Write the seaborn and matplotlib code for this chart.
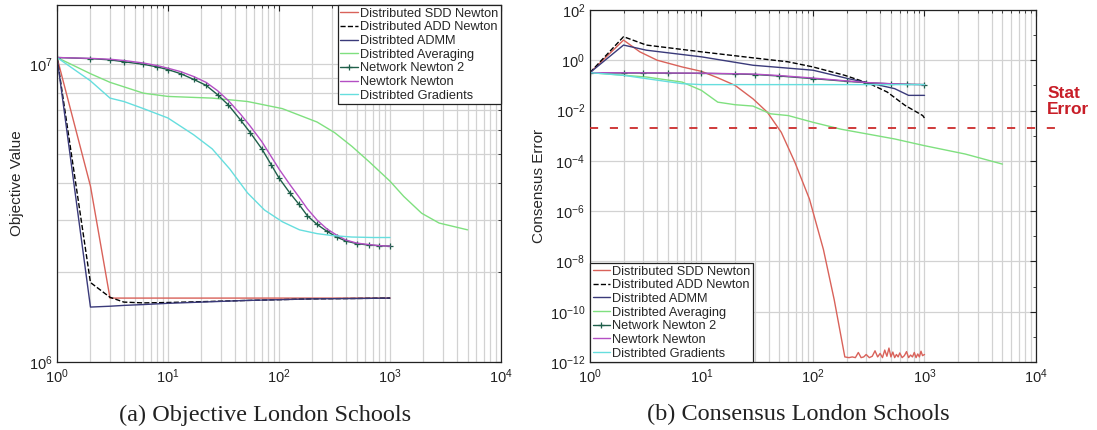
import matplotlib
matplotlib.use("Agg")
import matplotlib.pyplot as plt
from matplotlib.ticker import LogLocator, NullFormatter
import seaborn as sns

# ---------------- Objective value (London Schools) ----------------
it_direct = [1, 2, 3, 4, 6, 10, 20, 50, 100, 200, 500, 1000]
obj_sdd = [1.054e7, 3.9e6, 1.64e6, 1.64e6, 1.64e6, 1.64e6, 1.64e6, 1.64e6, 1.64e6, 1.64e6, 1.64e6, 1.64e6]
obj_add = [1.054e7, 1.85e6, 1.65e6, 1.59e6, 1.58e6, 1.585e6, 1.595e6, 1.61e6, 1.62e6, 1.63e6, 1.635e6, 1.64e6]
obj_admm = [1.054e7, 1.53e6, 1.54e6, 1.55e6, 1.56e6, 1.575e6, 1.59e6, 1.61e6, 1.62e6, 1.63e6, 1.635e6, 1.64e6]

it_nn = [1, 2, 3, 4, 6, 8, 10, 13, 17, 22, 28, 35, 45, 55, 70, 85, 100, 125, 150,
         180, 220, 270, 330, 400, 500, 650, 800, 1000]
obj_nn2 = [1.054e7, 1.045e7, 1.035e7, 1.02e7, 1.0e7, 9.8e6, 9.6e6, 9.3e6, 8.9e6, 8.5e6,
           7.9e6, 7.3e6, 6.5e6, 5.9e6, 5.2e6, 4.6e6, 4.15e6, 3.7e6, 3.4e6, 3.1e6,
           2.9e6, 2.75e6, 2.63e6, 2.55e6, 2.5e6, 2.47e6, 2.46e6, 2.45e6]
obj_nn = [1.054e7, 1.047e7, 1.04e7, 1.03e7, 1.01e7, 9.9e6, 9.7e6, 9.45e6, 9.1e6, 8.7e6,
          8.15e6, 7.55e6, 6.8e6, 6.2e6, 5.5e6, 4.9e6, 4.45e6, 3.95e6, 3.6e6, 3.27e6,
          3.0e6, 2.8e6, 2.67e6, 2.57e6, 2.51e6, 2.48e6, 2.46e6, 2.45e6]

it_grad = [1, 2, 3, 4, 6, 10, 17, 25, 36, 52, 74, 107, 153, 220, 300, 450, 700, 1000]
obj_grad = [1.054e7, 8.8e6, 7.7e6, 7.5e6, 7.1e6, 6.6e6, 5.8e6, 5.2e6, 4.45e6, 3.7e6,
            3.24e6, 2.96e6, 2.78e6, 2.7e6, 2.66e6, 2.63e6, 2.62e6, 2.62e6]

it_avg = [1, 2, 3, 6, 10, 25, 52, 107, 220, 316, 454, 652, 1000, 1330, 1930, 2770, 5000]
obj_avg = [1.054e7, 9.3e6, 8.7e6, 8.0e6, 7.8e6, 7.7e6, 7.5e6, 7.1e6, 6.4e6, 5.9e6,
           5.3e6, 4.7e6, 4.05e6, 3.6e6, 3.16e6, 2.93e6, 2.78e6]

# ---------------- Consensus error (London Schools) ----------------
it_sdd_c = [1, 2, 2.8, 4, 6.7, 10, 14, 20, 29, 39, 52, 69, 93, 124, 155, 193,
            210, 225, 240, 255, 270, 285, 300, 320, 340, 360, 380, 400, 420, 440,
            460, 480, 500, 520, 540, 560, 580, 600, 630, 660, 690, 720, 750, 780,
            810, 840, 870, 900, 930, 960, 1000]
cons_sdd = [0.32, 6.3, 2.15, 1.0, 0.54, 0.36, 0.2, 0.1, 0.029, 8.5e-3, 1.35e-3, 8.5e-5,
            3e-6, 3e-8, 3e-10, 1.6e-12,
            1.5e-12, 1.6e-12, 1.5e-12, 2.4e-12, 1.5e-12, 1.6e-12, 2.0e-12, 1.5e-12,
            1.7e-12, 2.8e-12, 1.6e-12, 2.2e-12, 1.5e-12, 3.0e-12, 1.7e-12, 3.6e-12,
            1.6e-12, 2.5e-12, 1.5e-12, 2.0e-12, 1.6e-12, 2.3e-12, 1.5e-12, 1.8e-12,
            2.6e-12, 1.5e-12, 1.9e-12, 1.6e-12, 2.4e-12, 1.5e-12, 2.1e-12, 1.6e-12,
            2.7e-12, 1.8e-12, 2.0e-12]

it_add_c = [1, 2, 3.2, 10, 29, 60, 100, 193, 322, 464, 669, 964, 1000]
cons_add = [0.32, 8.6, 4.0, 2.15, 1.24, 0.86, 0.54, 0.25, 0.117, 0.054, 0.016, 0.0063, 0.005]

it_admm_c = [1, 2, 3.2, 10, 29, 100, 207, 400, 540, 720, 1000]
cons_admm = [0.32, 4.0, 2.5, 1.36, 0.63, 0.4, 0.185, 0.1, 0.074, 0.04, 0.04]

it_nn_c = [1, 2, 3, 5, 10, 20, 30, 50, 100, 200, 300, 500, 700, 1000]
cons_nn2 = [0.32, 0.31, 0.31, 0.305, 0.30, 0.285, 0.27, 0.235, 0.185, 0.145, 0.128, 0.115, 0.11, 0.107]
cons_nn = [0.32, 0.315, 0.315, 0.31, 0.305, 0.29, 0.28, 0.245, 0.195, 0.15, 0.13, 0.116, 0.11, 0.107]

it_grad_c = [1, 2, 3.2, 6.7, 10, 30, 100, 1000]
cons_grad = [0.32, 0.25, 0.185, 0.117, 0.107, 0.107, 0.107, 0.107]

it_avg_c = [1, 3.2, 6.7, 10, 14, 20, 29, 41.5, 60, 100, 179, 540, 1000, 2320, 5000]
cons_avg = [0.32, 0.215, 0.135, 0.063, 0.0215, 0.017, 0.015, 0.0074, 0.0063, 0.0034,
            0.0018, 7.4e-4, 4e-4, 1.86e-4, 7.4e-5]

stat_error = 2.0e-3

labels = ["Distributed SDD Newton", "Distributed ADD Newton", "Distribted ADMM",
          "Distribted Averaging", "Network Newton 2", "Newtork Newton",
          "Distribted Gradients"]
colors = ["#d9625a", "#000000", "#3a3a7a", "#7fe07f", "#1f5f4a", "#b44fc4", "#66dede"]
styles = ["-", "--", "-", "-", "-", "-", "-"]
markers = [None, None, None, None, "+", None, None]

sns.set_theme(style="whitegrid")
plt.rcParams["font.family"] = ["Liberation Sans", "DejaVu Sans"]
plt.rcParams["mathtext.fontset"] = "custom"
plt.rcParams["mathtext.rm"] = "Liberation Sans"
plt.rcParams["mathtext.it"] = "Liberation Sans"

fig = plt.figure(figsize=(10.97, 4.30), dpi=100)
ax1 = fig.add_axes([0.052, 0.158, 0.4047, 0.830])
ax2 = fig.add_axes([0.5378, 0.158, 0.4066, 0.819])

def draw(ax, series):
    for (xs, ys), lab, col, ls, mk in zip(series, labels, colors, styles, markers):
        sns.lineplot(x=xs, y=ys, ax=ax, color=col, linestyle=ls, linewidth=1.0,
                     marker=mk, markersize=4, markeredgewidth=0.9,
                     markeredgecolor=col, markerfacecolor=col, label=lab,
                     sort=False, estimator=None)

draw(ax1, [(it_direct, obj_sdd), (it_direct, obj_add), (it_direct, obj_admm),
           (it_avg, obj_avg), (it_nn, obj_nn2), (it_nn, obj_nn), (it_grad, obj_grad)])
draw(ax2, [(it_sdd_c, cons_sdd), (it_add_c, cons_add), (it_admm_c, cons_admm),
           (it_avg_c, cons_avg), (it_nn_c, cons_nn2), (it_nn_c, cons_nn),
           (it_grad_c, cons_grad)])

for ax in (ax1, ax2):
    ax.set_xscale("log")
    ax.set_yscale("log")
    ax.set_xlim(1, 1e4)
    ax.set_facecolor("white")
    for sp in ax.spines.values():
        sp.set_color("#222222")
        sp.set_linewidth(0.9)
        sp.set_visible(True)
    ax.xaxis.set_minor_locator(LogLocator(base=10, subs=range(2, 10), numticks=20))
    ax.xaxis.set_minor_formatter(NullFormatter())
    ax.tick_params(which="both", direction="in", top=True, right=True,
                   colors="#222222", labelcolor="#222222", labelsize=10.5)
    ax.tick_params(which="major", length=4, width=0.8)
    ax.tick_params(which="minor", length=2.5, width=0.6)
    ax.grid(True, which="major", color="#d2d2d2", linewidth=0.9, linestyle="-")
    ax.grid(True, which="minor", axis="x", color="#d2d2d2", linewidth=0.9, linestyle="-")

ax1.set_ylim(1e6, 1.58e7)
ax1.set_yticks([1e6, 1e7])
ax1.yaxis.set_minor_locator(LogLocator(base=10, subs=range(2, 10), numticks=20))
ax1.yaxis.set_minor_formatter(NullFormatter())
ax1.grid(True, which="minor", axis="y", color="#d2d2d2", linewidth=0.9, linestyle="-")
ax1.set_ylabel("Objective Value", fontsize=11, labelpad=3)

ax2.set_ylim(1e-12, 1e2)
ax2.set_yticks([10.0 ** k for k in range(-12, 3, 2)])
ax2.yaxis.set_minor_locator(LogLocator(base=10, subs=[1.0], numticks=30))
ax2.yaxis.set_minor_formatter(NullFormatter())
ax2.set_ylabel("Consensus Error", fontsize=11, labelpad=3)

# Statistical error level, running past the right edge of the axes
ax2.plot([1, 1.57e4], [stat_error, stat_error], color="#cc2b2b",
         linestyle=(0, (4.5, 6.5)), linewidth=1.3, clip_on=False, zorder=5)
ax2.text(1.025, 0.74, "Stat\nError", transform=ax2.transAxes, color="#c81e28",
         fontsize=12.5, fontweight="bold", ha="left", va="center", linespacing=1.15)

leg_kw = dict(frameon=True, fancybox=False, framealpha=1, edgecolor="#222222",
              fontsize=9.2, handlelength=1.4, handletextpad=0.15, labelspacing=0.13,
              borderpad=0.2)
l1 = ax1.legend(loc="upper right", borderaxespad=0.0, **leg_kw)
l2 = ax2.legend(loc="lower left", borderaxespad=0.0, **leg_kw)
for leg in (l1, l2):
    leg.get_frame().set_linewidth(0.9)

fig.text(0.2415, 0.035, "(a) Objective London Schools", family="Liberation Serif",
         fontsize=17.5, ha="center", va="center", color="#222222")
fig.text(0.7275, 0.035, "(b) Consensus London Schools", family="Liberation Serif",
         fontsize=17.5, ha="center", va="center", color="#222222")

fig.savefig("out.png", dpi=100, facecolor="white")
